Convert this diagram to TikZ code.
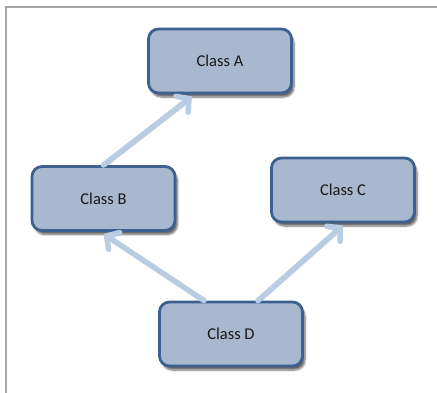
\documentclass[tikz,border=0pt]{standalone}
\usepackage{fontspec}
\setmainfont{Carlito}
\usetikzlibrary{arrows.meta,shadows.blur}
\definecolor{boxfill}{RGB}{168,184,206}
\definecolor{boxedge}{RGB}{60,96,146}
\definecolor{linkcol}{RGB}{184,204,228}
\definecolor{framecol}{RGB}{165,165,165}
\tikzset{
  classbox/.style={draw=boxedge, fill=boxfill, line width=2.8pt,
    rounded corners=10pt, minimum width=143pt, minimum height=64pt,
    font=\fontsize{16.5}{19}\selectfont, text=black!90,
    blur shadow={shadow xshift=2.5pt, shadow yshift=-4pt,
      shadow blur steps=6, shadow opacity=60}},
  inherit/.style={draw=linkcol, line width=5.5pt, line cap=round,
    -{Straight Barb[length=9pt, width=20pt, line cap=round]},
    preaction={draw=black, draw opacity=0.2,
      transform canvas={shift={(1.5pt,-2.5pt)}}}},
}
\begin{document}
\begin{tikzpicture}[x=1pt, y=-1pt]
  \useasboundingbox (0,0) rectangle (437,392);
  % open frame: top and left edges
  \draw[framecol, line width=1.6pt] (6,393) -- (6,7) -- (438,7);

  \node[classbox] (A) at (220,61)   {Class A};
  \node[classbox] (B) at (103.5,198.5) {Class B};
  \node[classbox] (C) at (343,190)  {Class C};
  \node[classbox] (D) at (231,334)  {Class D};

  \draw[inherit] (B.north) -- ([xshift=-28pt,yshift=-2pt]A.south);
  \draw[inherit] ([xshift=-27pt]D.north) -- ([yshift=-2pt]B.south);
  \draw[inherit] ([xshift=27pt]D.north) -- ([yshift=-2pt]C.south);
\end{tikzpicture}
\end{document}
